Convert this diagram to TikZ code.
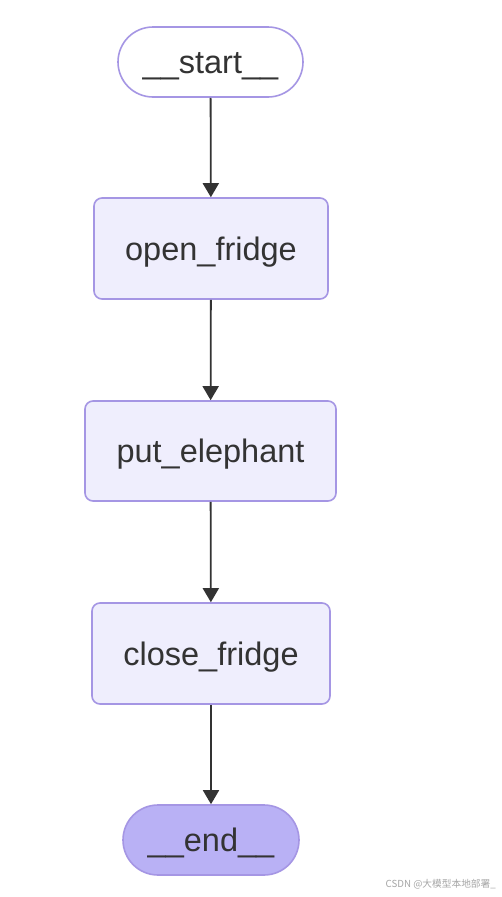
\documentclass[tikz,border=0pt]{standalone}
\usepackage{fontspec}
\setmainfont{Liberation Sans}
\newfontfamily\cjk{Noto Sans CJK SC}
\usetikzlibrary{arrows.meta}
\definecolor{boxfill}{HTML}{EFEEFD}
\definecolor{boxline}{HTML}{A596E4}
\definecolor{endfill}{HTML}{B9B1F5}
\definecolor{txt}{HTML}{333333}
\tikzset{
  stepbox/.style={draw=boxline, line width=1.6pt, fill=boxfill, rounded corners=8pt,
    text=txt, font=\fontsize{32.5}{38}\selectfont, inner sep=0pt,
    text height=23.4pt, text depth=0pt},
  terminal/.style={draw=boxline, line width=1.6pt, rounded corners=35pt,
    minimum width=185pt, minimum height=70pt, text=txt,
    font=\fontsize{32.5}{38}\selectfont, inner sep=0pt,
    text height=23.4pt, text depth=0pt},
  flow/.style={draw=txt, line width=1.8pt, -{Triangle[width=16pt,length=14pt]}}
}
\begin{document}
\begin{tikzpicture}[x=1pt,y=-1pt]
\useasboundingbox[fill=white] (0,0) rectangle (501,897);
\node[terminal, fill=white] (start) at (210.5,62) {\_\_start\_\_};
\node[stepbox, minimum width=234pt, minimum height=101pt] (open) at (211,248.5) {open\_fridge};
\node[stepbox, minimum width=251pt, minimum height=100pt] (put) at (210.5,451) {put\_elephant};
\node[stepbox, minimum width=238pt, minimum height=101pt] (close) at (211,653.5) {close\_fridge};
\node[terminal, fill=endfill, minimum width=176pt] (end) at (211,840) {\_\_end\_\_};
\draw[flow] (start) -- (open);
\draw[flow] (open) -- (put);
\draw[flow] (put) -- (close);
\draw[flow] (close) -- (end);
\node[anchor=east, text=gray!70, font=\cjk\fontsize{9.7}{11}\selectfont, inner sep=0pt] (wm) at (496,884) {CSDN @大模型本地部署\_};
\end{tikzpicture}
\end{document}
